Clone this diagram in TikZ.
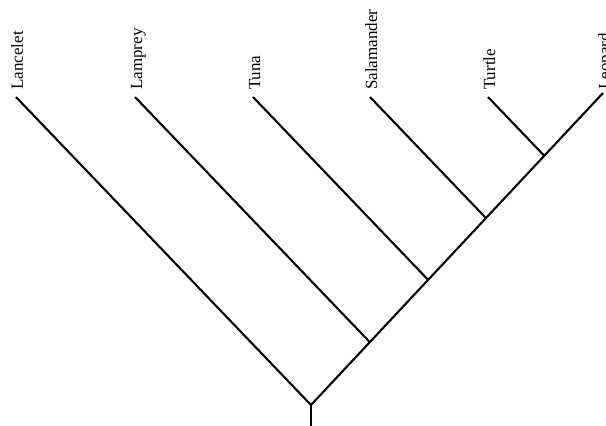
\documentclass[tikz,border=0pt]{standalone}
\usepackage{fontspec}
\setmainfont{Liberation Serif}
\usetikzlibrary{calc}
\begin{document}
\begin{tikzpicture}[x=1pt,y=-1pt,
  branch/.style={line width=2.1pt, black},
  taxon/.style={rotate=90, anchor=base west, inner sep=0pt, font=\fontsize{17}{20}\selectfont}]
\useasboundingbox (0,0) rectangle (606,426);
\fill[white] (0,0) rectangle (606,426);
% tips
\coordinate (tLancelet) at (16,97);
\coordinate (tLamprey) at (135,97);
\coordinate (tTuna) at (253,97);
\coordinate (tSalamander) at (370,97);
\coordinate (tTurtle) at (488,97);
\coordinate (tLeopard) at (603,93);
\coordinate (root) at (311,405);
\coordinate (base) at (311,426);
% far ends for parallel lines
\foreach \n in {Lamprey,Tuna,Salamander,Turtle}
  \coordinate (e\n) at ($(t\n)+(295,308)$);
\coordinate (jLamprey) at (intersection of root--tLeopard and tLamprey--eLamprey);
\coordinate (jTuna) at (intersection of root--tLeopard and tTuna--eTuna);
\coordinate (jSalamander) at (intersection of root--tLeopard and tSalamander--eSalamander);
\coordinate (jTurtle) at (intersection of root--tLeopard and tTurtle--eTurtle);
% branches
\draw[branch] (base) -- (root);
\draw[branch] (root) -- (tLancelet);
\draw[branch] (root) -- (tLeopard);
\draw[branch] (jLamprey) -- (tLamprey);
\draw[branch] (jTuna) -- (tTuna);
\draw[branch] (jSalamander) -- (tSalamander);
\draw[branch] (jTurtle) -- (tTurtle);
% labels
\node[taxon] (Lancelet) at (23,90) {Lancelet};
\node[taxon] (Lamprey) at (142,90) {Lamprey};
\node[taxon] (Tuna) at (260,90) {Tuna};
\node[taxon] (Salamander) at (377,90) {Salamander};
\node[taxon] (Turtle) at (495,90) {Turtle};
\node[taxon] (Leopard) at (610,90) {Leopard};
\end{tikzpicture}
\end{document}
